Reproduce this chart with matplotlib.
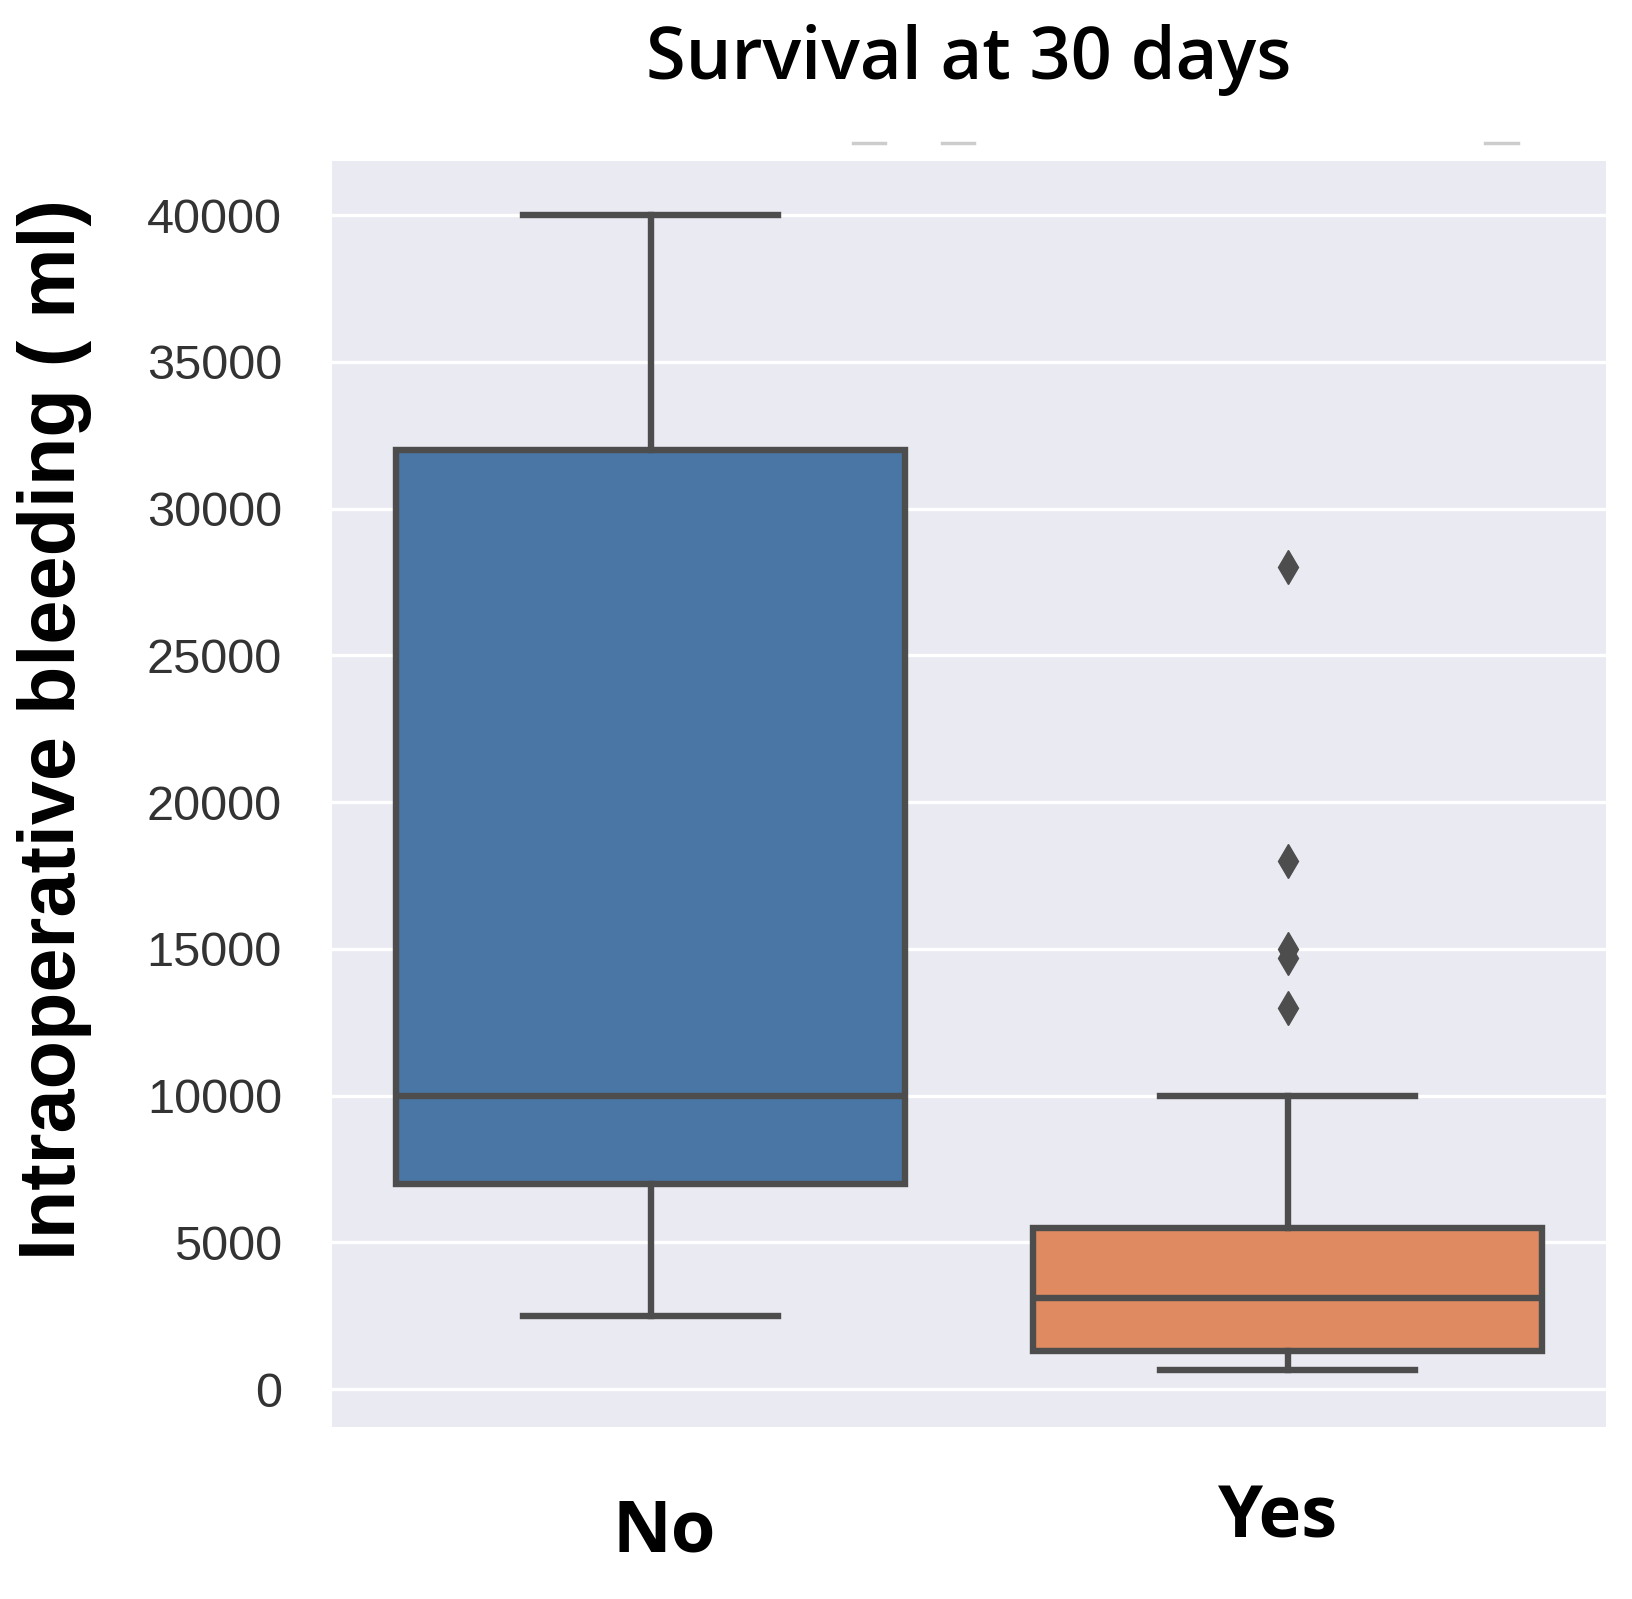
import matplotlib
matplotlib.use("Agg")
import matplotlib.pyplot as plt
import matplotlib.transforms as mtransforms
from matplotlib.lines import Line2D

# ---- data ----
categories = ["No", "Yes"]
whislo = [2500, 650]
q1 = [7000, 1300]
med = [10000, 3100]
q3 = [32000, 5500]
whishi = [40000, 10000]
fliers = [[], [28000, 18000, 15000, 14700, 13000]]
box_colors = ["#4a76a6", "#df8a60"]
yticks = [0, 5000, 10000, 15000, 20000, 25000, 30000, 35000, 40000]

title = "Survival at 30 days"
ylabel = "Intraoperative bleeding ( ml)"

# ---- figure ----
W, H = 1633, 1599
fig = plt.figure(figsize=(W / 100, H / 100), dpi=100)
ax = fig.add_axes([332 / W, 1 - 1427 / H, (1606 - 332) / W, (1427 - 161) / H])
ax.set_facecolor("#eaeaf2")
for s in ax.spines.values():
    s.set_visible(False)

edge = "#4d4d4d"
lw = 4.6
stats = []
for i, c in enumerate(categories):
    stats.append(dict(label=c, whislo=whislo[i], q1=q1[i], med=med[i],
                      q3=q3[i], whishi=whishi[i], fliers=fliers[i]))

bp = ax.bxp(stats, positions=range(len(categories)), widths=0.8,
            capwidths=0.4, patch_artist=True, showfliers=True,
            boxprops=dict(edgecolor=edge, linewidth=lw),
            medianprops=dict(color=edge, linewidth=lw),
            whiskerprops=dict(color=edge, linewidth=lw),
            capprops=dict(color=edge, linewidth=lw),
            flierprops=dict(marker="d", markerfacecolor=edge,
                            markeredgecolor=edge, markersize=17))
for patch, col in zip(bp["boxes"], box_colors):
    patch.set_facecolor(col)

ax.set_xlim(-0.5, 1.5)
ax.set_ylim(-1290, 41840)
ax.set_yticks(yticks)
ax.set_yticklabels([str(v) for v in yticks], fontsize=35,
                   family="Liberation Sans", color="#333333")
ax.yaxis.grid(True, color="white", linewidth=2.4)
ax.set_axisbelow(True)
ax.tick_params(axis="y", length=0, pad=36)
ax.tick_params(axis="x", length=0, pad=50)

ax.set_xticks(range(len(categories)))
ax.set_xticklabels(categories, fontsize=52, fontweight="bold",
                   family="Open Sans", color="black")
offsets = [(14, 0), (-9, 14)]
for lab, (dx, dy) in zip(ax.get_xticklabels(), offsets):
    lab.set_transform(lab.get_transform() +
                      mtransforms.ScaledTranslation(dx / 100, dy / 100,
                                                    fig.dpi_scale_trans))

ax.set_ylabel(ylabel, fontsize=57, family="Liberation Sans",
              fontweight="bold", color="black")
ax.yaxis.set_label_coords((92 - 332) / 1274, (1427 - 730) / 1266)

ax.set_title(title, fontsize=52, family="Open Sans", fontweight="semibold",
             pad=59)

# small gray dashes above the plot area
for x0, x1 in [(853, 885), (942, 974), (1485, 1518)]:
    fig.add_artist(Line2D([x0 / W, x1 / W], [1 - 143 / H, 1 - 143 / H],
                          transform=fig.transFigure, color="#cccccc",
                          linewidth=2.5))

fig.savefig("out.png", dpi=100, facecolor="white")
